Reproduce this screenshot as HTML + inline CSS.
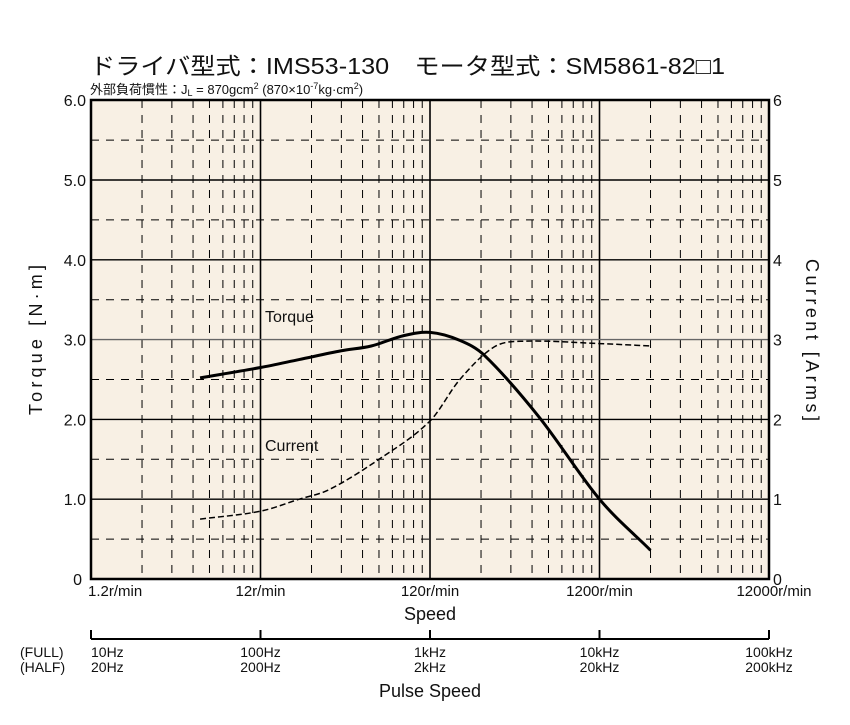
<!DOCTYPE html>
<html><head><meta charset="utf-8"><style>
body{margin:0;background:#fff;font-family:"Liberation Sans","Noto Sans CJK JP",sans-serif}
svg text{font-family:"Liberation Sans","Noto Sans CJK JP",sans-serif;fill:#111}
</style></head><body>
<svg id="c" width="850" height="720" viewBox="0 0 850 720">
<text x="90" y="74" font-size="23" textLength="635" lengthAdjust="spacingAndGlyphs">ドライバ型式：IMS53-130　モータ型式：SM5861-82□1</text>
<text x="90" y="94" font-size="13">外部負荷慣性：J<tspan font-size="9" dy="2">L</tspan><tspan dy="-2"> = 870gcm</tspan><tspan font-size="9" dy="-5">2</tspan><tspan dy="5"> (870×10</tspan><tspan font-size="9" dy="-5">-7</tspan><tspan dy="5">kg·cm</tspan><tspan font-size="9" dy="-5">2</tspan><tspan dy="5">)</tspan></text>
<rect x="91" y="100" width="678" height="479" fill="#f8f0e4"/>
<g id="grid"></g><g id="series"></g>
<rect x="91" y="100" width="678" height="479" fill="none" stroke="#000" stroke-width="2.5"/>
<g id="labels"></g>
<text x="430" y="620" font-size="18" text-anchor="middle">Speed</text>
<text x="42" y="340" font-size="18" text-anchor="middle" textLength="150" transform="rotate(-90 42 340)">Torque [N·m]</text>
<text x="806" y="340" font-size="18" text-anchor="middle" textLength="162" transform="rotate(90 806 340)">Current [Arms]</text>
<text x="265" y="322" font-size="16">Torque</text>
<text x="265" y="451" font-size="16">Current</text>
<line x1="91" y1="639" x2="769" y2="639" stroke="#000" stroke-width="2"/>
<text x="20" y="657" font-size="14">(FULL)</text>
<text x="20" y="672" font-size="14">(HALF)</text>
<text x="430" y="697" font-size="18" text-anchor="middle">Pulse Speed</text>
</svg>
<script>
const speedLabels=["1.2r/min","12r/min","120r/min","1200r/min","12000r/min"];
const fullLabels=["10Hz","100Hz","1kHz","10kHz","100kHz"];
const halfLabels=["20Hz","200Hz","2kHz","20kHz","200kHz"];
const torqueTicks=["0","1.0","2.0","3.0","4.0","5.0","6.0"];
const currentTicks=["0","1","2","3","4","5","6"];
const torqueHz=[44,100,169,300,450,700,1000,1500,2100,4400,10000,20000];
const torqueVal=[2.52,2.65,2.75,2.86,2.92,3.05,3.09,2.99,2.8,2.03,1.0,0.36];
const currentHz=[44,100,169,254,500,1000,1500,2400,3600,10000,20000];
const currentVal=[0.75,0.85,1.0,1.12,1.5,1.98,2.5,2.91,2.98,2.95,2.92];
const NS="http://www.w3.org/2000/svg";
const X0=91,DEC=169.5,Y0=579,YU=79.8;
const xs=f=>X0+(Math.log10(f)-1)*DEC;
const ys=v=>Y0-v*YU;
function mk(t,a,p){const e=document.createElementNS(NS,t);for(const k in a)e.setAttribute(k,a[k]);p.appendChild(e);return e;}
const g=document.getElementById('grid'),L=document.getElementById('labels'),S=document.getElementById('series');
for(let d=0;d<4;d++){for(let m=2;m<10;m++){const x=xs(10**(d+1)*m);
const l=mk('line',{x1:x,x2:x,y1:100,y2:579,stroke:'#000','stroke-width':1,'stroke-dasharray':'8,7'},g);

}}
for(let d=1;d<4;d++){const x=xs(10**(d+1));
const l=mk('line',{x1:x,x2:x,y1:100,y2:579,stroke:'#000','stroke-width':1.6},g);

}
for(let i=0;i<12;i++){const y=ys(i*0.5);const solid=i%2==0;
const l=mk('line',{x1:91,x2:769,y1:y,y2:y,stroke:i==6?'#666':'#000','stroke-width':solid?1.4:1,'stroke-dasharray':solid?'none':'8,7'},g);

}
torqueTicks.forEach((t,i)=>{const y=ys(i);
const a=mk('text',{x:i==0?82:86,y:y+6,'font-size':16,'text-anchor':'end'},L);a.textContent=t;


const b=mk('text',{x:773,y:y+6,'font-size':16},L);b.textContent=currentTicks[i];

});
speedLabels.forEach((t,i)=>{const x=xs(10**(i+1));
const a=mk('text',{x:i==0?x-3:(i==4?x+5:x),y:596,'font-size':15,'text-anchor':i==0?'start':'middle'},L);a.textContent=t;


const tk=mk('line',{x1:x,x2:x,y1:630,y2:639,stroke:'#000','stroke-width':2},L);


const f=mk('text',{x:x,y:657,'font-size':14,'text-anchor':i==0?'start':'middle'},L);f.textContent=fullLabels[i];


const h=mk('text',{x:x,y:672,'font-size':14,'text-anchor':i==0?'start':'middle'},L);h.textContent=halfLabels[i];

});
function path(hz,v){const p=hz.map((f,i)=>[xs(f),ys(v[i])]);let d='M'+p[0];
for(let i=0;i<p.length-1;i++){const a=p[Math.max(0,i-1)],b=p[i],c=p[i+1],e=p[Math.min(p.length-1,i+2)];
const k1=(c[0]-b[0])/(c[0]-a[0]||1)/3,k2=(c[0]-b[0])/(e[0]-b[0]||1)/3;
d+=' C'+(b[0]+(c[0]-a[0])*k1)+','+(b[1]+(c[1]-a[1])*k1)+' '+(c[0]-(e[0]-b[0])*k2)+','+(c[1]-(e[1]-b[1])*k2)+' '+c;}return d;}
const cp=mk('path',{d:path(currentHz,currentVal),fill:'none',stroke:'#000','stroke-width':1.5,'stroke-dasharray':'6,3'},S);


const tp=mk('path',{d:path(torqueHz,torqueVal),fill:'none',stroke:'#000','stroke-width':3},S);


</script>
</body></html>
